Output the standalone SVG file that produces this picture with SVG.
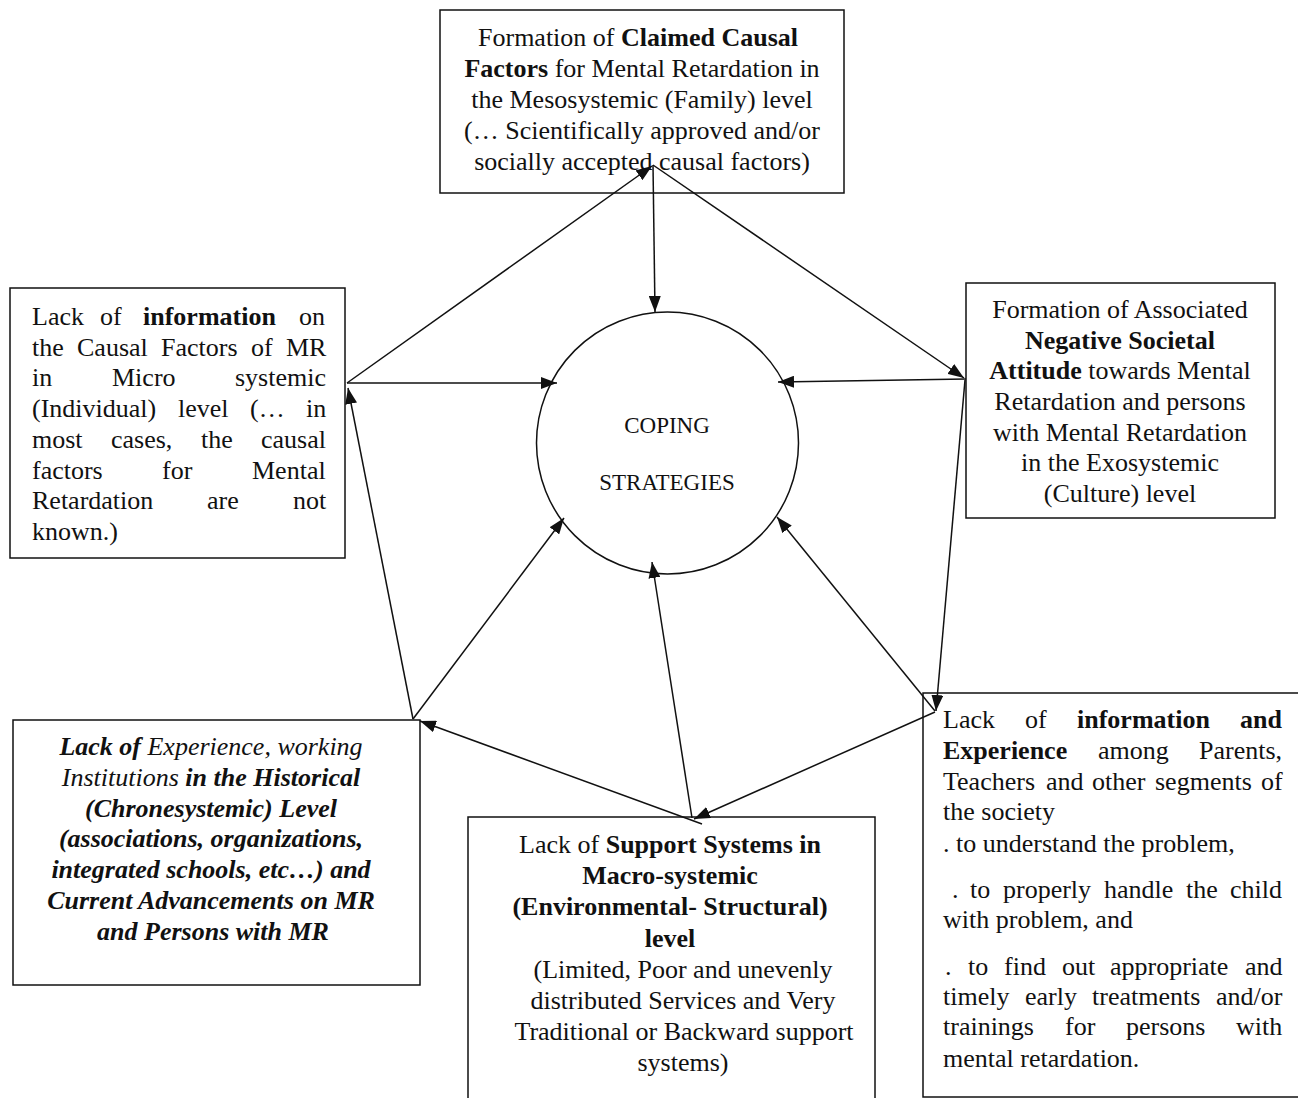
<svg xmlns="http://www.w3.org/2000/svg" width="1298" height="1098" viewBox="0 0 1298 1098">
<style>
.box{fill:#fff;stroke:#111;stroke-width:1.5}
.t{font-family:"Liberation Serif","Times New Roman",serif;font-size:26px;fill:#111}
.c{text-anchor:middle}
.b{font-weight:bold}
.i{font-style:italic}
.bi{font-weight:bold;font-style:italic}
.ln{stroke:#111;stroke-width:1.5;fill:none}
.a{marker-end:url(#ah)}
.cs{font-family:"Liberation Serif","Times New Roman",serif;font-size:23px;fill:#111;text-anchor:middle}
</style>
<defs>
<marker id="ah" markerUnits="userSpaceOnUse" markerWidth="16" markerHeight="12" refX="16" refY="6" orient="auto">
<path d="M0,0 L16,6 L0,12 z" fill="#111"/>
</marker>
</defs>
<rect width="1298" height="1098" fill="#fff"/>

<g id="node-top">
<rect class="box" x="440" y="10" width="404" height="183"/>
<text class="t c" x="638" y="46">Formation of <tspan class="b">Claimed Causal</tspan></text>
<text class="t c" x="642" y="77"><tspan class="b">Factors</tspan> for Mental Retardation in</text>
<text class="t c" x="642" y="108">the Mesosystemic (Family) level</text>
<text class="t c" x="642" y="139">(… Scientifically approved and/or</text>
<text class="t c" x="642" y="170">socially accepted causal factors)</text>
</g>

<g id="node-left">
<rect class="box" x="10" y="288" width="335" height="270"/>
<text class="t" y="325"><tspan x="32">Lack</tspan><tspan x="100">of</tspan><tspan x="143" class="b">information</tspan><tspan x="299">on</tspan></text>
<text class="t" y="356"><tspan x="32">the</tspan><tspan x="77">Causal</tspan><tspan x="161">Factors</tspan><tspan x="251">of</tspan><tspan x="286">MR</tspan></text>
<text class="t" y="386"><tspan x="32">in</tspan><tspan x="112">Micro</tspan><tspan x="235">systemic</tspan></text>
<text class="t" y="417"><tspan x="32">(Individual)</tspan><tspan x="178">level</tspan><tspan x="250">(…</tspan><tspan x="306">in</tspan></text>
<text class="t" y="448"><tspan x="32">most</tspan><tspan x="111">cases,</tspan><tspan x="201">the</tspan><tspan x="261">causal</tspan></text>
<text class="t" y="479"><tspan x="32">factors</tspan><tspan x="162">for</tspan><tspan x="252">Mental</tspan></text>
<text class="t" y="509"><tspan x="32">Retardation</tspan><tspan x="207">are</tspan><tspan x="293">not</tspan></text>
<text class="t" y="540"><tspan x="32">known.)</tspan></text>
</g>

<g id="node-right">
<rect class="box" x="966" y="283" width="309" height="235"/>
<text class="t c" x="1120" y="318">Formation of Associated</text>
<text class="t c b" x="1120" y="349">Negative Societal</text>
<text class="t c" x="1120" y="379"><tspan class="b">Attitude</tspan> towards Mental</text>
<text class="t c" x="1120" y="410">Retardation and persons</text>
<text class="t c" x="1120" y="441">with Mental Retardation</text>
<text class="t c" x="1120" y="471">in the Exosystemic</text>
<text class="t c" x="1120" y="502">(Culture) level</text>
</g>

<g id="node-center">
<circle class="box" cx="667.5" cy="443" r="131"/>
<text class="cs" x="667" y="433">COPING</text>
<text class="cs" x="667" y="490">STRATEGIES</text>
</g>

<g id="node-bottom-left">
<rect class="box" x="13" y="720" width="407" height="265"/>
<text class="t c" x="211" y="755"><tspan class="bi">Lack of</tspan> <tspan class="i">Experience, working</tspan></text>
<text class="t c" x="211" y="786"><tspan class="i">Institutions</tspan> <tspan class="bi">in the Historical</tspan></text>
<text class="t c bi" x="211" y="817">(Chronesystemic) Level</text>
<text class="t c bi" x="211" y="847">(associations, organizations,</text>
<text class="t c bi" x="211" y="878">integrated schools, etc…) and</text>
<text class="t c bi" x="211" y="909">Current Advancements on MR</text>
<text class="t c bi" x="213" y="940">and Persons with MR</text>
</g>

<g id="node-bottom-middle">
<rect class="box" x="468" y="817" width="407" height="295"/>
<text class="t c" x="670" y="853">Lack of <tspan class="b">Support Systems in</tspan></text>
<text class="t c b" x="670" y="884">Macro-systemic</text>
<text class="t c b" x="670" y="915">(Environmental- Structural)</text>
<text class="t c b" x="670" y="947">level</text>
<text class="t c" x="683" y="978">(Limited, Poor and unevenly</text>
<text class="t c" x="683" y="1009">distributed Services and Very</text>
<text class="t c" x="684" y="1040">Traditional or Backward support</text>
<text class="t c" x="683" y="1071">systems)</text>
</g>

<g id="node-bottom-right">
<rect class="box" x="923" y="693" width="377" height="404"/>
<text class="t" y="728"><tspan x="943">Lack</tspan><tspan x="1025">of</tspan><tspan x="1077" class="b">information</tspan><tspan x="1240" class="b">and</tspan></text>
<text class="t" y="759"><tspan x="943" class="b">Experience</tspan><tspan x="1098">among</tspan><tspan x="1199">Parents,</tspan></text>
<text class="t" y="790"><tspan x="943">Teachers</tspan><tspan x="1046">and</tspan><tspan x="1092">other</tspan><tspan x="1155">segments</tspan><tspan x="1261">of</tspan></text>
<text class="t" x="943" y="820">the society</text>
<text class="t" x="943" y="852">. to understand the problem,</text>
<text class="t" y="898"><tspan x="952">.</tspan><tspan x="970">to</tspan><tspan x="1003">properly</tspan><tspan x="1104">handle</tspan><tspan x="1186">the</tspan><tspan x="1230">child</tspan></text>
<text class="t" x="943" y="928">with problem, and</text>
<text class="t" y="975"><tspan x="945">.</tspan><tspan x="968">to</tspan><tspan x="1004">find</tspan><tspan x="1062">out</tspan><tspan x="1110">appropriate</tspan><tspan x="1245">and</tspan></text>
<text class="t" y="1005"><tspan x="943">timely</tspan><tspan x="1025">early</tspan><tspan x="1092">treatments</tspan><tspan x="1216">and/or</tspan></text>
<text class="t" y="1035"><tspan x="943">trainings</tspan><tspan x="1065">for</tspan><tspan x="1126">persons</tspan><tspan x="1236">with</tspan></text>
<text class="t" x="943" y="1067">mental retardation.</text>
</g>

<g id="connectors">
<line class="ln a" x1="347" y1="383" x2="652" y2="166"/>
<line class="ln a" x1="653" y1="165" x2="655" y2="312"/>
<line class="ln a" x1="653" y1="165" x2="964" y2="378"/>
<line class="ln a" x1="347" y1="383" x2="557" y2="383"/>
<line class="ln a" x1="966" y1="379" x2="778" y2="382"/>
<line class="ln a" x1="413" y1="719" x2="348" y2="388"/>
<line class="ln a" x1="413" y1="719" x2="564" y2="518"/>
<line class="ln a" x1="702" y1="824" x2="420" y2="721"/>
<line class="ln a" x1="692" y1="818" x2="652" y2="562"/>
<line class="ln a" x1="935" y1="712" x2="694" y2="819"/>
<line class="ln a" x1="965" y1="380" x2="936" y2="711"/>
<line class="ln a" x1="935" y1="711" x2="777" y2="517"/>
</g>
</svg>
